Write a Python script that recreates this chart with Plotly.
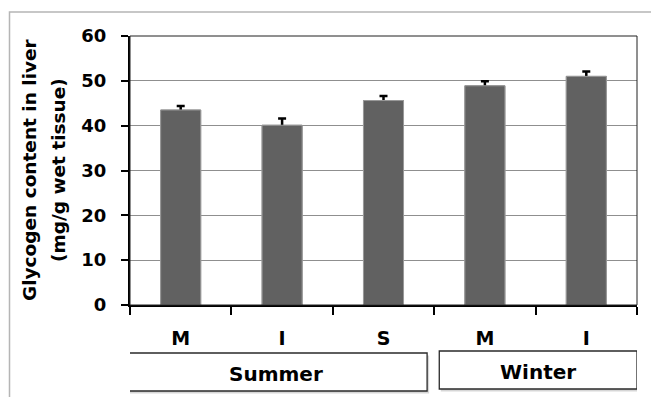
import plotly.graph_objects as go

# Liver glycogen by group and season
categories = ["M", "I", "S", "M", "I"]
glycogen = [43.5, 40.1, 45.6, 48.9, 51.0]
sem = [0.9, 1.5, 1.0, 1.0, 1.1]
seasons = ["Summer", "Winter"]
season_members = [[0, 1, 2], [3, 4]]
y_ticks = [0, 10, 20, 30, 40, 50, 60]

W, H = 651, 397
FONT = "DejaVu Sans"
x_idx = list(range(len(categories)))
bar_style = dict(color="#616161", line=dict(color="#9a9a9a", width=1))

fig = go.Figure()
# bars carrying the error bars; a second copy drawn on top hides the lower half
fig.add_trace(go.Bar(
    x=x_idx, y=glycogen, width=0.395, marker=bar_style,
    error_y=dict(type="data", array=sem, symmetric=True,
                 color="black", thickness=2.5, width=4),
    showlegend=False,
))
fig.add_trace(go.Bar(
    x=x_idx, y=glycogen, width=0.395, marker=bar_style, showlegend=False,
))

# plot area in pixels
px_left, px_right, px_top, px_bottom = 130, 637, 36, 305

shapes = [
    # outer chart frame
    dict(type="rect", xref="paper", yref="paper",
         x0=9.5 / W, x1=1.05, y0=-0.05, y1=(H - 12) / H,
         line=dict(color="#b5b5b5", width=1.5), fillcolor="rgba(0,0,0,0)", layer="below"),
    # plot area border
    dict(type="rect", xref="x domain", yref="y domain", x0=0, x1=1, y0=0, y1=1,
         line=dict(color="#202020", width=1), layer="above"),
]

# season group boxes under the category labels
box_pad = [(-0.55, 0.43), (-0.45, 0.5)]
box_py = [(353, 391), (351, 389)]
annotations = []
for name, members, (pl, pr), (t, b) in zip(seasons, season_members, box_pad, box_py):
    x0, x1 = members[0] + pl, members[-1] + pr
    y0, y1 = (H - b) / H, (H - t) / H
    # soft drop shadow
    shapes.append(dict(type="rect", xref="x", yref="paper",
                       x0=x0 + 0.015, x1=x1 + 0.02, y0=y0 - 2.5 / H, y1=y1 - 2.5 / H,
                       line=dict(width=0), fillcolor="rgba(0,0,0,0.16)", layer="below"))
    shapes.append(dict(type="rect", xref="x", yref="paper",
                       x0=x0, x1=x1, y0=y0, y1=y1,
                       line=dict(color="#2a2a2a", width=1.3), fillcolor="white", layer="below"))
    annotations.append(dict(text=name, x=(x0 + x1) / 2, xref="x",
                            y=(y0 + y1) / 2 - 1.5 / H, yref="paper",
                            showarrow=False, xanchor="center", yanchor="middle",
                            font=dict(family=FONT, size=20, color="black", weight="bold")))

# two-line y axis title
for txt, xc in [("Glycogen content in liver", 29), ("(mg/g wet tissue)", 58)]:
    annotations.append(dict(text=txt, x=xc / W, xref="paper",
                            y=(H - 170) / H, yref="paper", textangle=-90,
                            showarrow=False, xanchor="center", yanchor="middle",
                            font=dict(family=FONT, size=18.5, color="black", weight="bold")))

fig.update_layout(
    width=W, height=H,
    autosize=False,
    margin=dict(l=0, r=0, t=0, b=0, pad=0, autoexpand=False),
    paper_bgcolor="white", plot_bgcolor="white",
    barmode="overlay",
    shapes=shapes,
    annotations=annotations,
    xaxis=dict(
        domain=[px_left / W, px_right / W],
        range=[-0.5, len(categories) - 0.5],
        automargin=False,
        tickmode="array", tickvals=x_idx, ticktext=categories,
        ticks="", showgrid=False, zeroline=False,
        showline=True, linecolor="black", linewidth=2,
        ticklabelstandoff=15,
        tickfont=dict(family=FONT, size=19, color="black", weight="bold"),
        minor=dict(tickmode="linear", tick0=-0.5, dtick=1, ticks="outside",
                   ticklen=8, tickwidth=2, tickcolor="black", showgrid=False),
    ),
    yaxis=dict(
        domain=[(H - px_bottom) / H, (H - px_top) / H],
        range=[0, 60],
        automargin=False,
        tickmode="array", tickvals=y_ticks,
        ticks="outside", ticklen=7, tickwidth=2, tickcolor="black",
        showline=True, linecolor="black", linewidth=2,
        showgrid=True, gridcolor="#8f8f8f", gridwidth=1, zeroline=False,
        ticklabelstandoff=11,
        tickfont=dict(family=FONT, size=18, color="black", weight="bold"),
    ),
)

fig.write_html("out.html")
